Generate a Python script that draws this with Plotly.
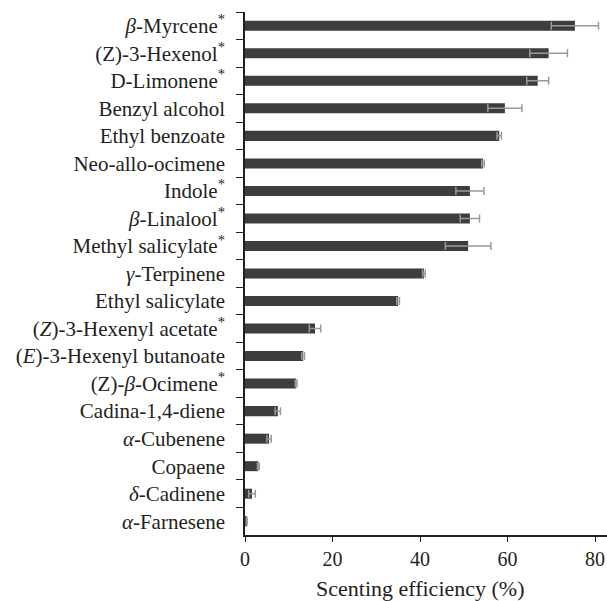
import plotly.graph_objects as go

STAR = "<sup><span style='color:#231f20'>*</span></sup>"

# Compounds, top to bottom
compounds = [
    "<i>β</i>-Myrcene" + STAR,
    "(Z)-3-Hexenol" + STAR,
    "D-Limonene" + STAR,
    "Benzyl alcohol",
    "Ethyl benzoate",
    "Neo-allo-ocimene",
    "Indole" + STAR,
    "<i>β</i>-Linalool" + STAR,
    "Methyl salicylate" + STAR,
    "<i>γ</i>-Terpinene",
    "Ethyl salicylate",
    "(<i>Z</i>)-3-Hexenyl acetate" + STAR,
    "(<i>E</i>)-3-Hexenyl butanoate",
    "(Z)-<i>β</i>-Ocimene" + STAR,
    "Cadina-1,4-diene",
    "<i>α</i>-Cubenene",
    "Copaene",
    "<i>δ</i>-Cadinene",
    "<i>α</i>-Farnesene",
]

# Scenting efficiency (%) and its error
efficiency = [75.4, 69.4, 66.9, 59.4, 58.1, 54.4, 51.4, 51.4, 51.0, 40.9,
              35.0, 16.0, 13.3, 11.7, 7.5, 5.5, 3.05, 1.6, 0.4]
error = [5.4, 4.3, 2.5, 3.9, 0.5, 0.3, 3.2, 2.2, 5.2, 0.3,
         0.3, 1.3, 0.3, 0.2, 0.6, 0.5, 0.2, 0.75, 0.1]

x_ticks = [0, 20, 40, 60, 80]

FONT = "Liberation Serif"
INK = "#231f20"

fig = go.Figure(
    go.Bar(
        x=efficiency,
        y=compounds,
        orientation="h",
        marker=dict(color="#3d3d3f", line=dict(width=0)),
        error_x=dict(type="data", array=error, symmetric=True,
                     color="#9a9a9a", thickness=1.5, width=4),
    )
)

fig.update_layout(
    width=607,
    height=601,
    margin=dict(l=245, r=0, t=12, b=66),
    plot_bgcolor="white",
    paper_bgcolor="white",
    bargap=0.636,
    showlegend=False,
    font=dict(family=FONT, size=20, color=INK),
)

fig.update_yaxes(
    type="category",
    categoryorder="array",
    categoryarray=compounds,
    autorange="reversed",
    tickson="boundaries",
    ticks="outside",
    ticklen=7,
    tickwidth=1.3,
    tickcolor=INK,
    showline=True,
    linecolor=INK,
    linewidth=1.5,
    showgrid=False,
    ticklabelstandoff=14,
    tickfont=dict(family=FONT, size=21, color=INK),
)

fig.update_xaxes(
    range=[0, 82.74],
    tickvals=x_ticks,
    ticks="outside",
    ticklen=5,
    tickwidth=1.3,
    tickcolor=INK,
    showline=True,
    linecolor=INK,
    linewidth=1.5,
    showgrid=False,
    zeroline=False,
    tickfont=dict(family=FONT, size=20, color=INK),
)

fig.add_annotation(
    text="Scenting efficiency (%)",
    x=40, xref="x",
    y=0, yref="paper",
    yshift=-53, yanchor="middle",
    showarrow=False,
    font=dict(family=FONT, size=22, color=INK),
)

fig.write_html("out.html")
